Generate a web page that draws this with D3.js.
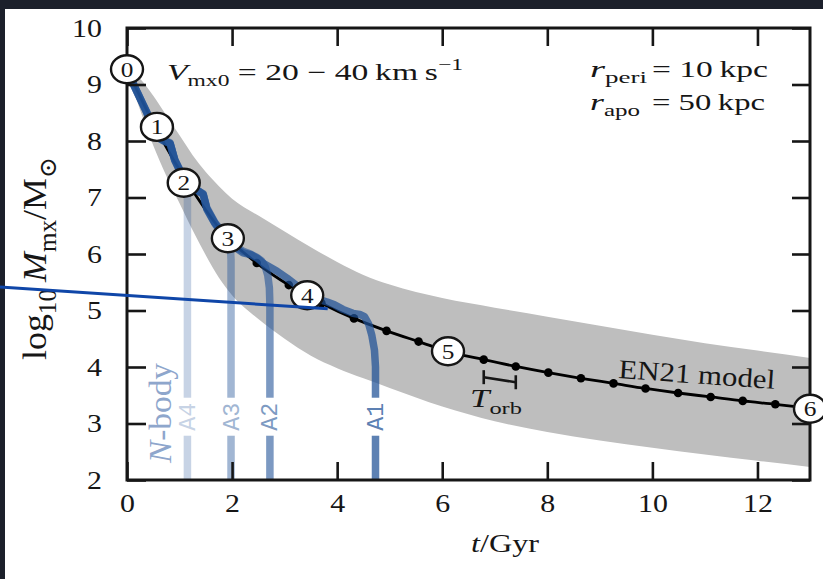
<!DOCTYPE html>
<html>
<head>
<meta charset="utf-8">
<script src="https://cdn.jsdelivr.net/npm/d3@7"></script>
<style>
  html, body { margin: 0; padding: 0; background: #1c202b; }
  svg { display: block; }
</style>
</head>
<body>
<svg id="chart" width="823" height="579"></svg>
<script>
// ---- axis ticks -----------------------------------------------------------
const xTicks = [0, 2, 4, 6, 8, 10, 12];
const yTicks = [2, 3, 4, 5, 6, 7, 8, 9, 10];

// ---- EN21 model: mass at each pericentre passage (Gyr, log10 M) -----------
const modelTime = [0, 0.62, 1.23, 1.85, 2.47, 3.08, 3.70, 4.32, 4.94, 5.55, 6.17,
                   6.79, 7.40, 8.02, 8.64, 9.26, 9.87, 10.49, 11.11, 11.72, 12.34, 13.0];
const modelMass = [9.27, 8.10, 7.15, 6.35, 5.84, 5.45, 5.13, 4.86, 4.64, 4.45, 4.26,
                   4.13, 4.01, 3.90, 3.80, 3.71, 3.62, 3.54, 3.47, 3.40, 3.34, 3.27];

// ---- model spread for Vmx0 = 20-40 km/s -----------------------------------
const bandTime  = [0, 0.25, 0.5, 0.75, 1.0, 1.25, 1.5, 1.75, 2.0, 2.5, 3.0, 3.5, 4.0,
                   4.5, 5.0, 6.0, 7.0, 8.0, 9.0, 10.0, 11.0, 12.0, 13.0];
const bandUpper = [9.30, 9.10, 8.80, 8.45, 8.10, 7.75, 7.45, 7.20, 6.98, 6.68, 6.40, 6.12, 5.86,
                   5.63, 5.46, 5.22, 5.05, 4.89, 4.73, 4.57, 4.42, 4.29, 4.16];
const bandLower = [9.25, 8.55, 7.92, 7.38, 6.90, 6.42, 5.98, 5.58, 5.27, 4.85, 4.50, 4.20, 3.98,
                   3.80, 3.63, 3.30, 3.04, 2.85, 2.70, 2.57, 2.45, 2.34, 2.23];

// ---- numbered decade markers along the model ------------------------------
const markerLabel = ["0", "1", "2", "3", "4", "5", "6"];
const markerTime  = [0, 0.57, 1.08, 1.92, 3.43, 6.11, 13.0];
const markerMass  = [9.27, 8.25, 7.26, 6.28, 5.27, 4.28, 3.26];

// ---- N-body runs: [time, log10 M] until disruption -------------------------
const runNames = ["A4", "A3", "A2", "A1"];
const runA1 = [[0, 9.22], [0.1, 9.05], [0.2, 8.85], [0.38, 8.5], [0.5, 8.2], [0.57, 8.07],
  [0.7, 8.0], [0.82, 7.96], [0.91, 7.66], [1.0, 7.49], [1.12, 7.29], [1.3, 7.15], [1.45, 7.06],
  [1.52, 6.8], [1.67, 6.55], [1.77, 6.42], [1.92, 6.27], [2.05, 6.12], [2.21, 6.02], [2.35, 5.99],
  [2.47, 5.93], [2.6, 5.83], [2.85, 5.7], [3.05, 5.57], [3.29, 5.4], [3.42, 5.29], [3.6, 5.21],
  [3.81, 5.15], [3.95, 5.1], [4.11, 5.02], [4.3, 4.95], [4.43, 4.93], [4.52, 4.89], [4.6, 4.76],
  [4.66, 4.56], [4.71, 4.3], [4.73, 4.0], [4.73, 2]];
const runA2 = [[0, 9.22], [0.1, 9.04], [0.2, 8.86], [0.38, 8.49], [0.5, 8.22], [0.57, 8.08],
  [0.7, 8.01], [0.82, 7.95], [0.91, 7.67], [1.0, 7.5], [1.12, 7.3], [1.3, 7.16], [1.45, 7.05],
  [1.52, 6.82], [1.67, 6.56], [1.77, 6.44], [1.92, 6.28], [2.05, 6.14], [2.21, 6.05], [2.35, 6.0],
  [2.47, 5.94], [2.56, 5.88], [2.63, 5.78], [2.68, 5.62], [2.71, 5.4], [2.72, 5.1], [2.72, 2]];
const runA3 = [[0, 9.22], [0.1, 9.06], [0.2, 8.84], [0.38, 8.51], [0.5, 8.21], [0.57, 8.06],
  [0.7, 8.02], [0.82, 7.97], [0.91, 7.65], [1.0, 7.48], [1.12, 7.28], [1.3, 7.14], [1.45, 7.07],
  [1.52, 6.79], [1.67, 6.54], [1.77, 6.41], [1.9, 6.27], [1.95, 6.2], [1.97, 6.08], [1.98, 5.9],
  [1.98, 2]];
const runA4 = [[0, 9.22], [0.1, 9.05], [0.2, 8.85], [0.38, 8.5], [0.5, 8.2], [0.57, 8.07],
  [0.7, 8.0], [0.82, 7.96], [0.91, 7.66], [1.0, 7.49], [1.08, 7.36], [1.13, 7.25], [1.15, 7.05],
  [1.15, 2]];
const runs = [runA4, runA3, runA2, runA1];
const runOpacity = [0.25, 0.42, 0.58, 0.72];

// ---- orbital-period bar (one period between two pericentres) --------------
const orbitBar = [[6.79, 3.82], [7.40, 3.73]];
// Pointer aimed at the model near the fourth marker
const pointerTarget = [3.82, 5.03];

// ---- layout -----------------------------------------------------------------
const W = 823, H = 579;
const plot = { left: 127, right: 810, top: 28, bottom: 480 };
const SERIF = "'Liberation Serif', 'DejaVu Serif', serif";
const MONO = "'Liberation Mono', 'DejaVu Sans Mono', monospace";
const INK = "#161616";
const BLUE = "#1e5096";
const SX = 1.15;  // horizontal glyph stretch

const svg = d3.select("#chart");
svg.append("rect").attr("width", W).attr("height", H).attr("fill", "#1c202b");
svg.append("rect").attr("x", 5).attr("y", 9).attr("width", W - 5).attr("height", H - 9).attr("fill", "#ffffff");

const x = d3.scaleLinear().domain([0, 13]).range([plot.left, plot.right]);
const y = d3.scaleLinear().domain([2, 10]).range([plot.bottom, plot.top]);

// Rich text: parts = [[string, style]] with style among "", "i", "sub", "sup".
// opt.len forces the run's overall length; otherwise glyphs get a horizontal stretch.
function rich(parent, opt, parts) {
  const size = opt.size;
  const rot = opt.rotate || 0;
  const sx = opt.len ? 1 : (opt.sx || SX);
  let tf = `translate(${opt.x},${opt.y})`;
  if (rot === -90) tf += ` rotate(-90) scale(1,${opt.sx || SX})`;
  else tf += ` rotate(${rot}) scale(${sx},1)`;
  const t = parent.append("text")
    .attr("transform", tf)
    .attr("font-family", opt.family || SERIF)
    .attr("font-size", size)
    .attr("fill", opt.fill || INK)
    .attr("text-anchor", opt.anchor || "start");
  if (opt.len) t.attr("textLength", opt.len).attr("lengthAdjust", "spacingAndGlyphs");
  let cur = 0;
  parts.forEach(([str, st]) => {
    const s = t.append("tspan").text(str);
    let target = 0;
    if (st.includes("sub")) { target = size * 0.28; s.attr("font-size", size * 0.7); }
    if (st.includes("sup")) { target = -size * 0.42; s.attr("font-size", size * 0.7); }
    if (st.includes("i")) s.attr("font-style", "italic");
    if (target !== cur) { s.attr("dy", target - cur); cur = target; }
  });
  return t;
}

// ---- band ---------------------------------------------------------------------
const bandData = bandTime.map((t, i) => [t, bandLower[i], bandUpper[i]]);
svg.append("path")
  .datum(bandData)
  .attr("fill", "#bebebe")
  .attr("d", d3.area()
    .x(d => x(d[0])).y0(d => y(d[1])).y1(d => y(d[2]))
    .curve(d3.curveMonotoneX));

// ---- EN21 model line and pericentre dots ---------------------------------------
const modelData = modelTime.map((t, i) => [t, modelMass[i]]);
svg.append("path")
  .datum(modelData)
  .attr("fill", "none").attr("stroke", "#000").attr("stroke-width", 2.8)
  .attr("d", d3.line().x(d => x(d[0])).y(d => y(d[1])).curve(d3.curveMonotoneX));
svg.append("g").selectAll("circle")
  .data(modelData.slice(1, -1))
  .join("circle")
  .attr("cx", d => x(d[0])).attr("cy", d => y(d[1])).attr("r", 4.3)
  .attr("fill", "#000");

// ---- N-body runs -------------------------------------------------------------------
const runLine = d3.line().x(d => x(d[0])).y(d => y(d[1]));
const gRuns = svg.append("g");
runs.forEach((r, i) => {
  gRuns.append("path")
    .datum(r)
    .attr("fill", "none")
    .attr("stroke", BLUE)
    .attr("stroke-opacity", runOpacity[i])
    .attr("stroke-width", 7.5)
    .attr("stroke-linejoin", "round")
    .attr("d", runLine);
});

// run labels sit in a gap of each disruption line
const labelMass = 3.12;
runs.forEach((r, i) => {
  const tEnd = r[r.length - 1][0];
  const cx = x(tEnd), cy = y(labelMass);
  svg.append("rect")
    .attr("x", cx - 7).attr("y", cy - 19).attr("width", 14).attr("height", 38)
    .attr("fill", "#fff");
  const col = d3.interpolateRgb("#ffffff", BLUE)(runOpacity[i]);
  rich(svg, { x: cx + 7.5, y: cy + 14, size: 20, rotate: -90, len: 28, family: MONO, fill: col },
    [[runNames[i], ""]]);
});

rich(svg, { x: 171, y: 463, size: 27, rotate: -90, len: 100, fill: "#8ea6cc" },
  [["N", "i"], ["-body", ""]]);

// ---- frame and ticks -------------------------------------------------------------
function styleAxis(g) {
  g.select(".domain").remove();
  g.selectAll(".tick line").attr("stroke", INK).attr("stroke-width", 2.6);
  g.attr("font-family", SERIF).attr("font-size", 26);
  g.selectAll(".tick text").attr("fill", INK);
}
svg.append("g")
  .attr("transform", `translate(0,${plot.bottom})`)
  .call(d3.axisBottom(x).tickValues(xTicks).tickSize(-18).tickPadding(14).tickFormat(d3.format("d")))
  .call(styleAxis)
  .call(g => g.selectAll(".tick text").attr("transform", `scale(${SX},1)`));
svg.append("g")
  .attr("transform", `translate(0,${plot.top})`)
  .call(d3.axisTop(x).tickValues(xTicks).tickSize(-18).tickFormat(""))
  .call(styleAxis);
svg.append("g")
  .attr("transform", `translate(${plot.left},0)`)
  .call(d3.axisLeft(y).tickValues(yTicks).tickSize(-19).tickFormat(d3.format("d")))
  .call(styleAxis)
  .call(g => g.selectAll(".tick text").attr("x", 0).attr("transform", `translate(-25,0) scale(${SX},1)`));
svg.append("g")
  .attr("transform", `translate(${plot.right},0)`)
  .call(d3.axisRight(y).tickValues(yTicks).tickSize(-18).tickFormat(""))
  .call(styleAxis);

svg.append("rect")
  .attr("x", plot.left).attr("y", plot.top)
  .attr("width", plot.right - plot.left).attr("height", plot.bottom - plot.top)
  .attr("fill", "none").attr("stroke", INK).attr("stroke-width", 3);

// ---- orbital period bar ------------------------------------------------------------
const gBar = svg.append("g").attr("stroke", INK).attr("stroke-width", 2.6);
gBar.append("line")
  .attr("x1", x(orbitBar[0][0])).attr("y1", y(orbitBar[0][1]))
  .attr("x2", x(orbitBar[1][0])).attr("y2", y(orbitBar[1][1]));
orbitBar.forEach(p => {
  gBar.append("line")
    .attr("x1", x(p[0])).attr("x2", x(p[0]))
    .attr("y1", y(p[1]) - 7).attr("y2", y(p[1]) + 7);
});
rich(svg, { x: 470, y: 407, size: 25, len: 52 }, [["T", "i"], ["orb", "sub"]]);

// ---- numbered markers ----------------------------------------------------------------
markerLabel.forEach((lab, i) => {
  const cx = x(markerTime[i]), cy = y(markerMass[i]);
  svg.append("ellipse")
    .attr("cx", cx).attr("cy", cy).attr("rx", 16).attr("ry", 14)
    .attr("fill", "#fff").attr("stroke", INK).attr("stroke-width", 2.4);
  rich(svg, { x: cx, y: cy + 7.5, size: 22, anchor: "middle" }, [[lab, ""]]);
});

// ---- annotations -------------------------------------------------------------------
rich(svg, { x: 167, y: 80, size: 23, len: 296 },
  [["V", "i"], ["mx0", "sub"], ["\u00a0=\u00a020\u00a0\u2212\u00a040\u2009km\u2009s", ""], ["\u22121", "sup"]]);
rich(svg, { x: 590, y: 77, size: 23, len: 57 }, [["r", "i"], ["peri", "sub"]]);
rich(svg, { x: 652, y: 77, size: 23, len: 116 }, [["=\u00a010\u2009kpc", ""]]);
rich(svg, { x: 590, y: 110, size: 23, len: 50 }, [["r", "i"], ["apo", "sub"]]);
rich(svg, { x: 652, y: 110, size: 23, len: 113 }, [["=\u00a050\u2009kpc", ""]]);
rich(svg, { x: 618, y: 378, size: 27, rotate: 4, len: 157 }, [["EN21 model", ""]]);

// axis titles
rich(svg, { x: 471, y: 552, size: 25, len: 68 }, [["t", "i"], ["/Gyr", ""]]);
rich(svg, { x: 46, y: 360, size: 30, rotate: -90, len: 203 },
  [["log", ""], ["10", "sub"], ["\u2009", ""], ["M", "i"], ["mx", "sub"], ["/M", ""], ["\u2299", "sub"]]);

// ---- pointer line --------------------------------------------------------------------
svg.append("line")
  .attr("x1", 0).attr("y1", 287)
  .attr("x2", x(pointerTarget[0])).attr("y2", y(pointerTarget[1]))
  .attr("stroke", "#0f46a8").attr("stroke-width", 3);
</script>
</body>
</html>
